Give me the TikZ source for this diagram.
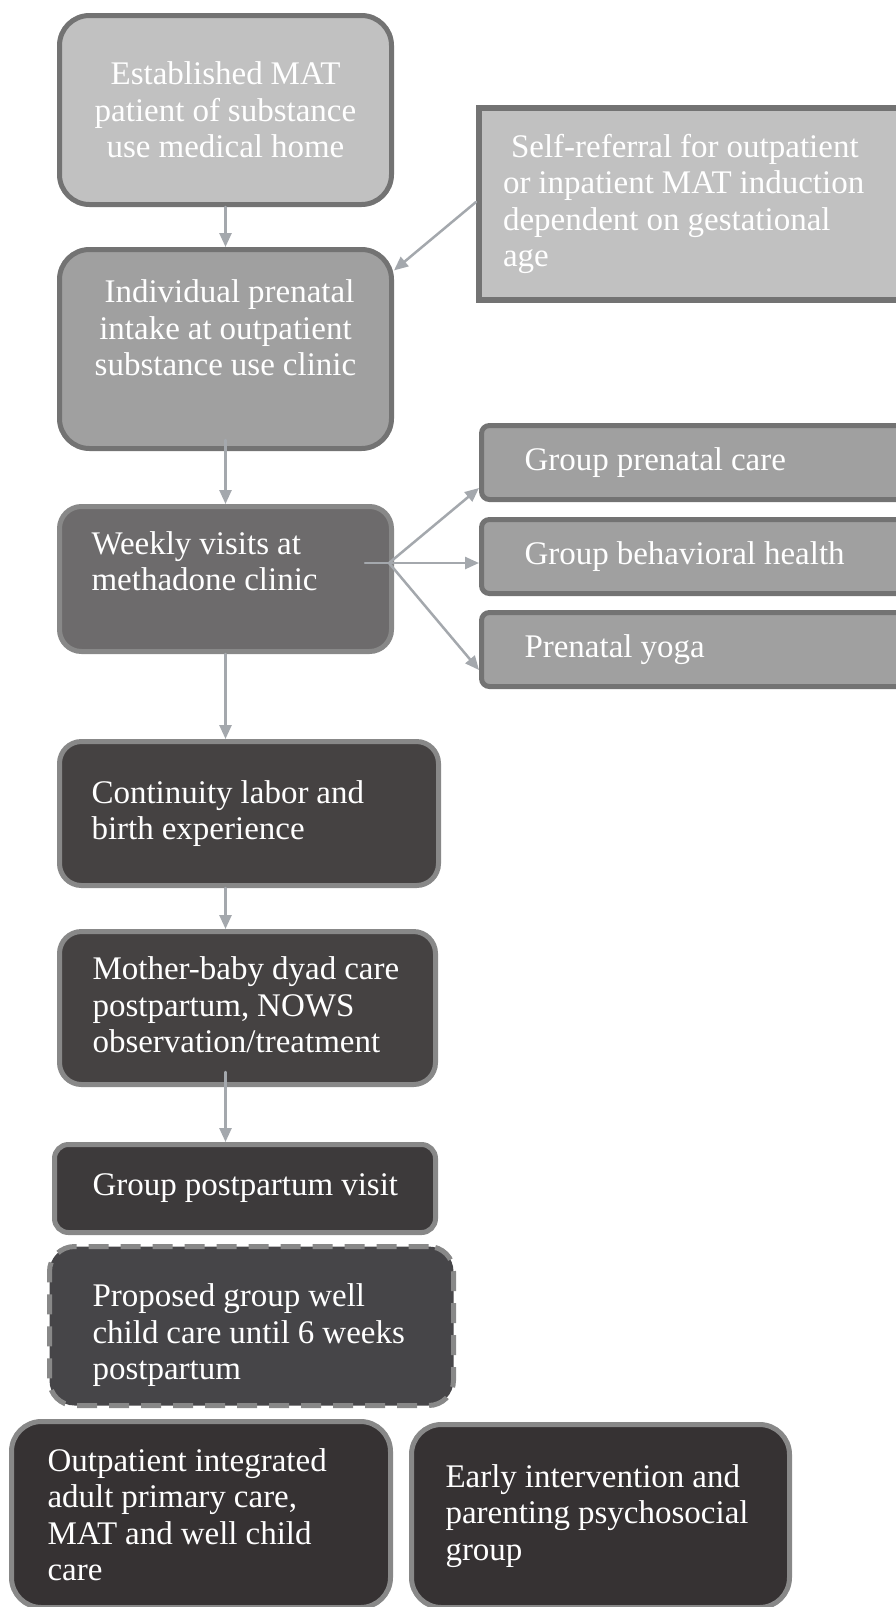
\documentclass[tikz,border=0pt]{standalone}
\usepackage{fontspec}
\setmainfont{Liberation Serif}
\usetikzlibrary{arrows.meta}

\definecolor{arrgray}{HTML}{A4A8AD}
\definecolor{rimgray}{HTML}{737373}
\definecolor{rimlight}{HTML}{888888}
\definecolor{palefill}{HTML}{C1C1C1}
\definecolor{midfill}{HTML}{A0A0A0}
\definecolor{slatefill}{HTML}{6D6B6C}
\definecolor{darkfill}{HTML}{454242}
\definecolor{darkerfill}{HTML}{3D3A3B}
\definecolor{propfill}{HTML}{464548}
\definecolor{deepfill}{HTML}{363233}

\newcommand{\boxfont}{\fontsize{33}{36.5}\selectfont\spaceskip=8pt\relax}

\begin{document}
\begin{tikzpicture}[x=1pt,y=-1pt,>={Triangle[length=14pt,width=12pt]},
  box/.style={draw=rimgray,line width=5pt,text=white,anchor=north west,align=flush left,inner ysep=0pt,
    font=\boxfont},
  lift/.style={execute at end node={\endgraf\vspace{#1}}},
  link/.style={->,draw=arrgray,line width=2.5pt,line cap=round}]
  \path[fill=white,use as bounding box] (0,0) rectangle (896,1607);

  % main column
  \node[box,fill=palefill,rounded corners=30pt,minimum width=332pt,minimum height=189pt,inner xsep=6pt,
    text width=320pt,align=flush center] (est) at (57,13) {Established MAT\\patient of substance\\use medical home};
  \node[box,fill=midfill,rounded corners=30pt,minimum width=332pt,minimum height=199pt,inner xsep=6pt,
    text width=320pt,align=flush center,lift=42pt] (intake) at (57,247) {\ Individual prenatal\\intake at outpatient\\substance use clinic};
  \node[box,fill=slatefill,draw=rimlight,rounded corners=22pt,minimum width=332pt,minimum height=145pt,inner xsep=32pt,
    text width=268pt,lift=36pt] (weekly) at (57,504) {Weekly visits at\\methadone clinic};
  \node[box,fill=darkfill,draw=rimlight,rounded corners=22pt,minimum width=379pt,minimum height=144pt,inner xsep=32pt,
    text width=315pt] (labor) at (57,739) {Continuity labor and\\birth experience};
  \node[box,fill=darkfill,draw=rimlight,rounded corners=22pt,minimum width=376pt,minimum height=153pt,inner xsep=33pt,
    text width=310pt,lift=6pt] (dyad) at (57,929) {Mother-baby dyad care\\postpartum, NOWS\\observation/treatment};
  \node[box,fill=darkerfill,draw=rimlight,rounded corners=14pt,minimum width=381pt,minimum height=88pt,inner xsep=38pt,
    text width=305pt] (ppvisit) at (52,1142) {\mbox{Group postpartum visit}};
  \node[box,fill=propfill,draw=rimlight,dash pattern=on 20pt off 12pt,rounded corners=25pt,minimum width=404pt,
    minimum height=159pt,inner xsep=43pt,text width=318pt,lift=-19pt] (wellchild) at (47,1244) {Proposed group well\\child care until 6 weeks\\postpartum};
  \node[box,fill=deepfill,draw=rimlight,rounded corners=30pt,minimum width=379pt,minimum height=186pt,inner xsep=36pt,
    text width=307pt] (primary) at (9,1419) {Outpatient integrated\\adult primary care,\\MAT and well child\\care};
  \node[box,fill=deepfill,draw=rimlight,rounded corners=30pt,minimum width=378pt,minimum height=183pt,inner xsep=34pt,
    text width=310pt] (parenting) at (409,1422) {Early intervention and\\parenting psychosocial\\group};

  % side boxes
  \node[box,fill=palefill,draw=rimgray,line width=6pt,minimum width=520pt,minimum height=192pt,inner xsep=24pt,
    text width=472pt] (selfref) at (476,105) {\ Self-referral for outpatient\\or inpatient MAT induction\\dependent on gestational\\age};
  \node[box,fill=midfill,rounded corners=8pt,minimum width=520pt,minimum height=74pt,inner xsep=43pt,
    text width=434pt] (grpcare) at (479,423) {Group prenatal care};
  \node[box,fill=midfill,rounded corners=8pt,minimum width=520pt,minimum height=74pt,inner xsep=43pt,
    text width=434pt] (grphealth) at (479,517) {Group behavioral health};
  \node[box,fill=midfill,rounded corners=8pt,minimum width=520pt,minimum height=74pt,inner xsep=43pt,
    text width=434pt] (yoga) at (479,610) {Prenatal yoga};

  % arrows
  \draw[link] (est) -- (intake);
  \draw[link] (selfref.west |- 0,202) -- (intake.25);
  \draw[link] ([yshift=11pt]intake.south) -- (weekly.north);
  \coordinate (fanin) at (365,563);
  \coordinate (fan) at (389,563);
  \draw[link,-] (fanin) -- (fan);
  \draw[link] (fan) -- ([yshift=14pt]grpcare.south west);
  \draw[link] (fan) -- (fan -| grphealth.west);
  \draw[link] (fan) -- ([yshift=19pt]yoga.south west);
  \draw[link] (weekly.south) -- (weekly.south |- labor.north);
  \draw[link] (labor.south -| weekly.south) -- (dyad.north -| weekly.south);
  \draw[link] ([yshift=15pt]dyad.south -| weekly.south) -- (ppvisit.north -| weekly.south);
\end{tikzpicture}
\end{document}
